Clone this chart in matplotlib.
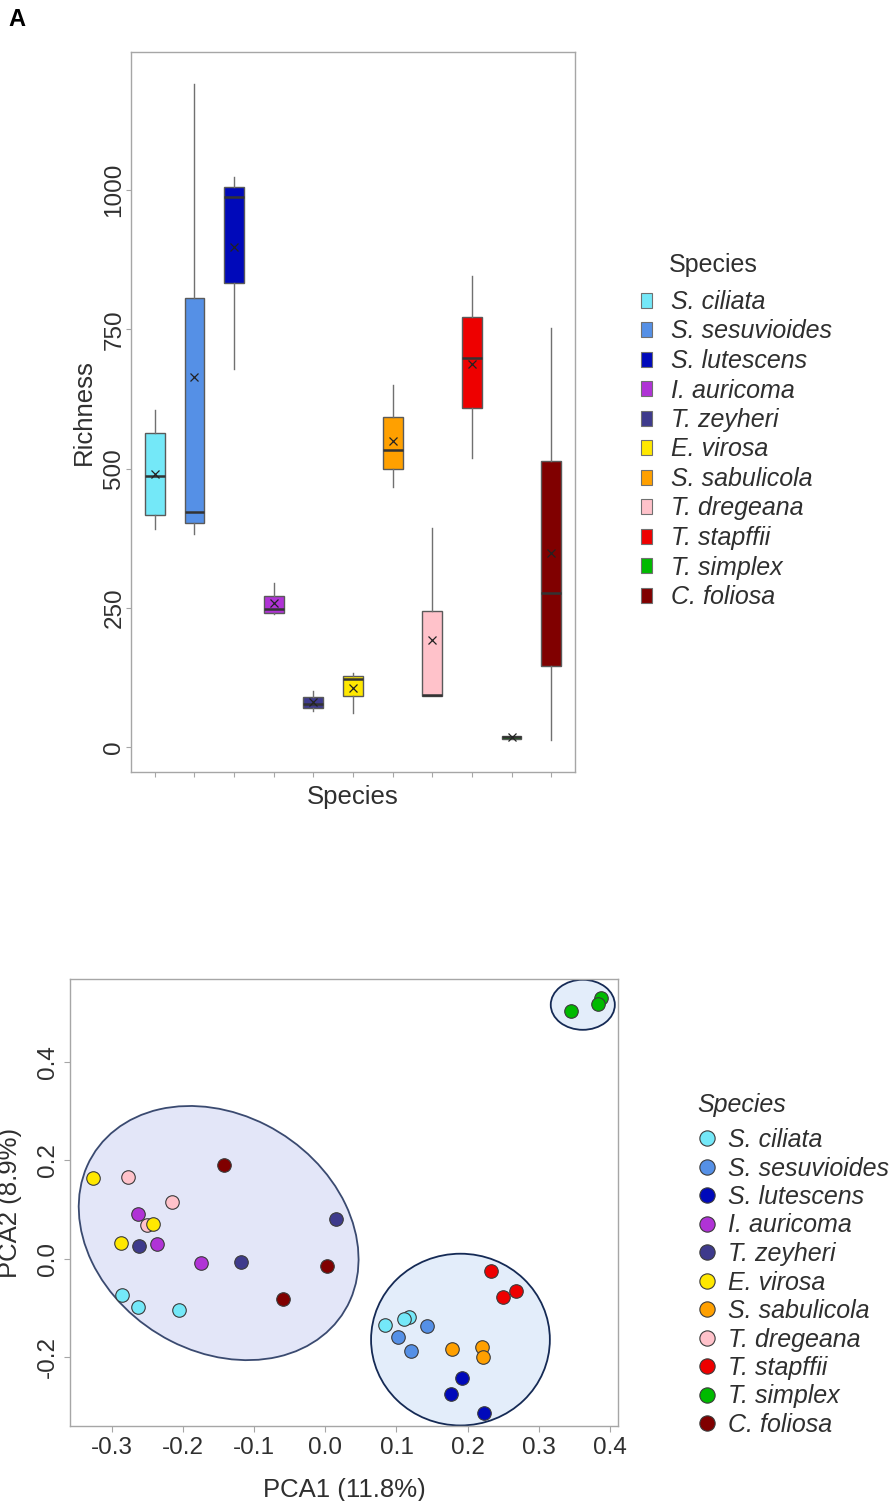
#%% Import modules
import numpy as np
import matplotlib
matplotlib.use("Agg")
import matplotlib.pyplot as plt
from matplotlib.patches import Ellipse, Patch
from matplotlib.lines import Line2D

plt.rcParams['font.family'] = ['Liberation Sans', 'DejaVu Sans']
textCol = '#2f2f2f'
spineCol = '#a6a6a6'

#%% Data
species = ['S. ciliata', 'S. sesuvioides', 'S. lutescens', 'I. auricoma', 'T. zeyheri',
           'E. virosa', 'S. sabulicola', 'T. dregeana', 'T. stapffii', 'T. simplex', 'C. foliosa']
colours = ['#74E8F8', '#5590E6', '#0009BA', '#B033D6', '#3E3A8C',
           '#FFE800', '#FFA000', '#FFC2CA', '#EE0000', '#00BA00', '#800000']

# richness summary per species (whiskers, quartiles, median, mean)
richWhisLo = [392, 383, 678, 238, 65, 61, 466, 92, 518, 14, 13]
richQ1 = [417, 402, 833, 241, 70, 91, 499, 92, 608, 14, 145]
richMed = [486, 422, 988, 247, 77, 122, 534, 93, 698, 17, 277]
richQ3 = [563, 807, 1006, 271, 89, 128, 592, 244, 773, 20, 514]
richWhisHi = [605, 1190, 1024, 295, 101, 132, 650, 393, 846, 20, 753]
richMean = [491, 665, 897, 259, 80, 105, 550, 192, 687, 17, 348]

# PCA scores per species
pcaX = {
    'S. ciliata': [-0.286, -0.264, -0.206, 0.084, 0.117, 0.110],
    'S. sesuvioides': [0.143, 0.102, 0.121],
    'S. lutescens': [0.192, 0.177, 0.223],
    'I. auricoma': [-0.264, -0.236, -0.175],
    'T. zeyheri': [0.015, -0.262, -0.119],
    'E. virosa': [-0.327, -0.243, -0.287],
    'S. sabulicola': [0.178, 0.220, 0.222],
    'T. dregeana': [-0.277, -0.216, -0.251],
    'T. stapffii': [0.233, 0.268, 0.250],
    'T. simplex': [0.388, 0.346, 0.383],
    'C. foliosa': [-0.143, 0.003, -0.060],
}
pcaY = {
    'S. ciliata': [-0.075, -0.098, -0.104, -0.136, -0.119, -0.124],
    'S. sesuvioides': [-0.138, -0.159, -0.188],
    'S. lutescens': [-0.243, -0.275, -0.314],
    'I. auricoma': [0.090, 0.030, -0.010],
    'T. zeyheri': [0.080, 0.026, -0.006],
    'E. virosa': [0.165, 0.071, 0.031],
    'S. sabulicola': [-0.185, -0.181, -0.201],
    'T. dregeana': [0.167, 0.116, 0.068],
    'T. stapffii': [-0.026, -0.066, -0.079],
    'T. simplex': [0.531, 0.504, 0.519],
    'C. foliosa': [0.190, -0.015, -0.083],
}
drawOrder = ['T. dregeana', 'S. ciliata', 'S. sesuvioides', 'S. lutescens', 'I. auricoma',
             'T. zeyheri', 'E. virosa', 'S. sabulicola', 'T. stapffii', 'T. simplex', 'C. foliosa']

# cluster ellipses: centre and covariance (data units)
ellCentres = [(-0.150, 0.052), (0.190, -0.165), (0.362, 0.517)]
ellCov = [[[0.0387, -0.0105], [-0.0105, 0.0670]],
          [[0.0158, 0.0], [0.0, 0.0306]],
          [[0.00203, 0.0], [0.0, 0.0026]]]
ellFill = ['#E3E6F8', '#E3EDFA', '#E3EDFA']
ellEdge = ['#3A4A70', '#152A55', '#152A55']

#%% Figure
W, H = 895, 1501
fig = plt.figure(figsize=(W / 100, H / 100), dpi=100)

def px_axes(left, top, right, bottom):
    return fig.add_axes([left / W, 1 - bottom / H, (right - left) / W, (bottom - top) / H])

def style_axes(ax):
    for s in ax.spines.values():
        s.set_color(spineCol)
        s.set_linewidth(1.0)
    ax.tick_params(colors=spineCol, labelcolor=textCol, labelsize=17.5, length=3.5, width=0.8)

fig.text(8 / W, 1 - 20 / H, 'A', fontsize=17, fontweight='bold', ha='left', va='center', color='black')

#%% Boxplot of richness
ax1 = px_axes(131, 52, 575, 772)
stats = []
for i, sp in enumerate(species):
    stats.append(dict(label=sp, whislo=richWhisLo[i], q1=richQ1[i], med=richMed[i],
                      q3=richQ3[i], whishi=richWhisHi[i], mean=richMean[i], fliers=[]))
bp = ax1.bxp(stats, positions=np.arange(1, len(species) + 1), widths=0.5, patch_artist=True,
             showmeans=True, showcaps=False,
             boxprops=dict(edgecolor='#5a5a5a', linewidth=1.0),
             medianprops=dict(color='#333333', linewidth=1.8),
             whiskerprops=dict(color='#707070', linewidth=1.0),
             meanprops=dict(marker='x', markeredgecolor='#222222', markersize=6, markeredgewidth=0.9))
for patch, c in zip(bp['boxes'], colours):
    patch.set_facecolor(c)

ax1.set_xlim(0.4, 11.6)
ax1.set_ylim(-45, 1248)
ax1.set_yticks([0, 250, 500, 750, 1000])
ax1.set_xticks(np.arange(1, len(species) + 1))
ax1.set_xticklabels([])
style_axes(ax1)
ax1.tick_params(axis='y', pad=0.5)
plt.setp(ax1.get_yticklabels(), rotation=90, va='center')
ax1.set_ylabel('Richness', fontsize=18.5, color=textCol)
ax1.yaxis.set_label_coords(-0.080, 0.5)
ax1.set_xlabel('Species', fontsize=18.5, color=textCol)
ax1.xaxis.set_label_coords(0.5, -0.018)

fig.text(669 / W, 1 - 265 / H, 'Species', fontsize=18, color=textCol, ha='left', va='center')
boxHandles = [Patch(facecolor=c, edgecolor='#707070', linewidth=0.8) for c in colours]
fig.legend(boxHandles, species, loc='upper left', bbox_to_anchor=(641 / W, 1 - 290 / H),
           frameon=False, borderpad=0, borderaxespad=0, handlelength=0.45, handleheight=0.55,
           handletextpad=0.75, labelspacing=0.22,
           prop=dict(family='Liberation Sans', style='italic', size=18), labelcolor=textCol)

#%% PCA scatter
ax2 = px_axes(70, 979, 618, 1426)
for (cx, cy), cov, fc, ec in zip(ellCentres, ellCov, ellFill, ellEdge):
    vals, vecs = np.linalg.eigh(np.array(cov))
    ang = np.degrees(np.arctan2(vecs[1, 1], vecs[0, 1]))
    ax2.add_patch(Ellipse((cx, cy), 2 * np.sqrt(vals[1]), 2 * np.sqrt(vals[0]), angle=ang,
                          facecolor=fc, edgecolor=ec, linewidth=1.3, zorder=1))
for sp in drawOrder:
    c = colours[species.index(sp)]
    ax2.scatter(pcaX[sp], pcaY[sp], s=95, color=c, edgecolor='#3a3a3a', linewidth=0.8, zorder=3)

ax2.set_xlim(-0.359, 0.4115)
ax2.set_ylim(-0.341, 0.5695)
ax2.set_xticks([-0.3, -0.2, -0.1, 0.0, 0.1, 0.2, 0.3, 0.4])
ax2.set_yticks([-0.2, 0.0, 0.2, 0.4])
ax2.xaxis.set_major_formatter(matplotlib.ticker.FormatStrFormatter('%.1f'))
ax2.yaxis.set_major_formatter(matplotlib.ticker.FormatStrFormatter('%.1f'))
style_axes(ax2)
ax2.tick_params(length=4, pad=4)
plt.setp(ax2.get_yticklabels(), rotation=90, va='center')
ax2.set_xlabel('PCA1 (11.8%)', fontsize=18.5, color=textCol)
ax2.xaxis.set_label_coords(0.5, -0.116)
ax2.set_ylabel('PCA2 (8.9%)', fontsize=18.5, color=textCol)
ax2.yaxis.set_label_coords(-0.088, 0.5)

fig.text(697 / W, 1 - 1105 / H, 'Species', fontsize=18, style='italic', color=textCol,
         ha='left', va='center')
dotHandles = [Line2D([], [], linestyle='none', marker='o', markersize=11, markerfacecolor=c,
                     markeredgecolor='#3a3a3a', markeredgewidth=0.8) for c in colours]
fig.legend(dotHandles, species, loc='upper left', bbox_to_anchor=(699 / W, 1 - 1128 / H),
           frameon=False, borderpad=0, borderaxespad=0, handlelength=0.65,
           handletextpad=0.5, labelspacing=0.18,
           prop=dict(family='Liberation Sans', style='italic', size=18), labelcolor=textCol)

fig.savefig('out.png', dpi=100)
